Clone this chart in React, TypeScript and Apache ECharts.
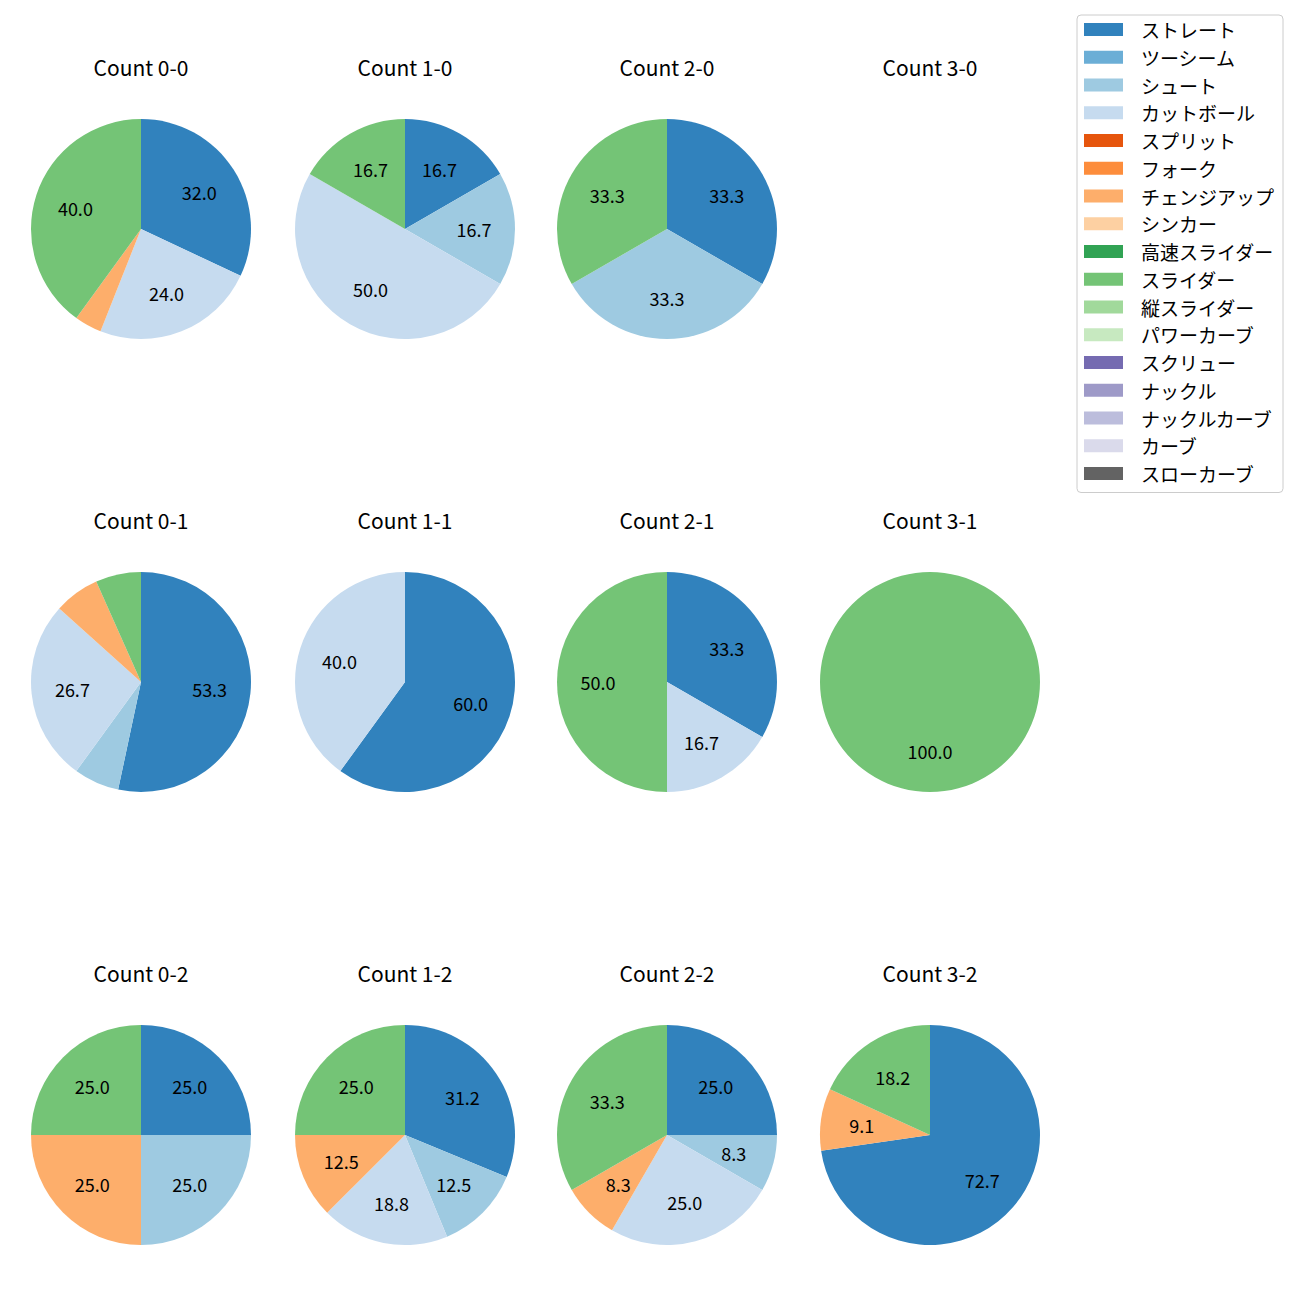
import React, { useEffect, useRef } from 'react';
import * as echarts from 'echarts';

const pitchTypes = ['ストレート', 'ツーシーム', 'シュート', 'カットボール', 'スプリット', 'フォーク', 'チェンジアップ', 'シンカー', '高速スライダー', 'スライダー', '縦スライダー', 'パワーカーブ', 'スクリュー', 'ナックル', 'ナックルカーブ', 'カーブ', 'スローカーブ'];
const pitchColors = ['#3182bd', '#6baed6', '#9ecae1', '#c6dbef', '#e6550d', '#fd8d3c', '#fdae6b', '#fdd0a2', '#31a354', '#74c476', '#a1d99b', '#c7e9c0', '#756bb1', '#9e9ac8', '#bcbddc', '#dadaeb', '#636363'];

const countTitles = ['Count 0-0', 'Count 1-0', 'Count 2-0', 'Count 3-0', 'Count 0-1', 'Count 1-1', 'Count 2-1', 'Count 3-1', 'Count 0-2', 'Count 1-2', 'Count 2-2', 'Count 3-2'];

// pitch counts, ordered as pitchTypes
const count00 = [8, 0, 0, 6, 0, 0, 1, 0, 0, 10, 0, 0, 0, 0, 0, 0, 0];
const count10 = [1, 0, 1, 3, 0, 0, 0, 0, 0, 1, 0, 0, 0, 0, 0, 0, 0];
const count20 = [1, 0, 1, 0, 0, 0, 0, 0, 0, 1, 0, 0, 0, 0, 0, 0, 0];
const count30 = [0, 0, 0, 0, 0, 0, 0, 0, 0, 0, 0, 0, 0, 0, 0, 0, 0];
const count01 = [8, 0, 1, 4, 0, 0, 1, 0, 0, 1, 0, 0, 0, 0, 0, 0, 0];
const count11 = [3, 0, 0, 2, 0, 0, 0, 0, 0, 0, 0, 0, 0, 0, 0, 0, 0];
const count21 = [2, 0, 0, 1, 0, 0, 0, 0, 0, 3, 0, 0, 0, 0, 0, 0, 0];
const count31 = [0, 0, 0, 0, 0, 0, 0, 0, 0, 1, 0, 0, 0, 0, 0, 0, 0];
const count02 = [1, 0, 1, 0, 0, 0, 1, 0, 0, 1, 0, 0, 0, 0, 0, 0, 0];
const count12 = [5, 0, 2, 3, 0, 0, 2, 0, 0, 4, 0, 0, 0, 0, 0, 0, 0];
const count22 = [3, 0, 1, 3, 0, 0, 1, 0, 0, 4, 0, 0, 0, 0, 0, 0, 0];
const count32 = [8, 0, 0, 0, 0, 0, 1, 0, 0, 2, 0, 0, 0, 0, 0, 0, 0];

const allCounts = [count00, count10, count20, count30, count01, count11, count21, count31, count02, count12, count22, count32];

const FONT = '"Noto Sans CJK JP", "Noto Sans", sans-serif';
const colX = [141, 405, 667, 930];
const rowY = [229, 682, 1135];
const R = 110;
const TITLE_FS = 21;
const LABEL_FS = 18;
const LEGEND_FS = 19;

// Python-style (round-half-even) one-decimal formatting
function fmtPct(p: number): string {
  const x = p * 10;
  const f = Math.floor(x);
  const d = x - f;
  let n: number;
  if (Math.abs(d - 0.5) < 1e-9) n = f % 2 === 0 ? f : f + 1;
  else n = Math.round(x);
  return (n / 10).toFixed(1);
}

export default function App() {
  const ref = useRef<HTMLDivElement>(null);
  useEffect(() => {
    if (!ref.current) return;
    const chart = echarts.init(ref.current, undefined, { renderer: 'svg' });

    const mainSeries: any[] = [];
    const labelSeries: any[] = [];
    const titles: any[] = [];
    allCounts.forEach((vals, i) => {
      const cx = colX[i % 4];
      const cy = rowY[Math.floor(i / 4)];
      const total = vals.reduce((a, b) => a + b, 0);
      titles.push({
        text: countTitles[i],
        left: cx,
        top: cy - R - 62.5,
        textAlign: 'center',
        padding: 0,
        textStyle: { fontSize: TITLE_FS, fontWeight: 'normal', color: '#000', fontFamily: FONT },
      });
      mainSeries.push({
        type: 'pie',
        center: [cx, cy],
        radius: [0, R],
        startAngle: 90,
        clockwise: true,
        stillShowZeroSum: false,
        showEmptyCircle: false,
        avoidLabelOverlap: false,
        silent: true,
        label: { show: false },
        labelLine: { show: false },
        data: pitchTypes.map((name, k) => ({
          name,
          value: vals[k],
          itemStyle: { color: pitchColors[k], borderWidth: 0 },
        })),
      });
      labelSeries.push({
        type: 'pie',
        center: [cx, cy],
        radius: [R * 0.2, R],
        startAngle: 90,
        clockwise: true,
        stillShowZeroSum: false,
        showEmptyCircle: false,
        avoidLabelOverlap: false,
        silent: true,
        itemStyle: { color: 'rgba(0,0,0,0)', borderWidth: 0 },
        labelLine: { show: false },
        label: {
          show: true,
          position: 'inside',
          color: '#000',
          fontSize: LABEL_FS,
          fontFamily: FONT,
          formatter: (p: any) => {
            if (!total) return '';
            const pct = (p.value / total) * 100;
            return pct >= 7 ? fmtPct(pct) : '';
          },
        },
        data: pitchTypes.map((name, k) => ({ name, value: vals[k] })),
      });
    });

    chart.setOption({
      animation: false,
      backgroundColor: '#ffffff',
      title: titles,
      legend: {
        orient: 'vertical',
        left: 1077,
        top: 15,
        data: pitchTypes,
        icon: 'rect',
        itemWidth: 39,
        itemHeight: 13,
        itemGap: 8.75,
        padding: [5, 9, 9.5, 7],
        backgroundColor: '#ffffff',
        borderColor: '#cccccc',
        borderWidth: 1,
        borderRadius: 4,
        selectedMode: false,
        textStyle: {
          fontSize: LEGEND_FS,
          fontFamily: FONT,
          color: '#000',
          padding: [0, 0, 0, 13],
        },
      },
      series: [...mainSeries, ...labelSeries],
    });
    return () => chart.dispose();
  }, []);
  return <div ref={ref} style={{ position: 'fixed', left: 0, top: 0, width: 1300, height: 1300 }} />;
}
